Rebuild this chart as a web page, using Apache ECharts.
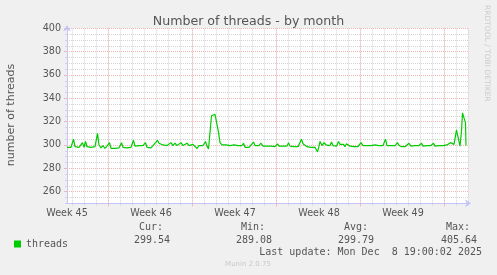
<!DOCTYPE html>
<html><head><meta charset="utf-8">
<script src="https://cdn.jsdelivr.net/npm/echarts@6/dist/echarts.min.js"></script>
<style>html,body{margin:0;padding:0;background:#f0f0f0}#c{width:497px;height:275px}</style>
</head><body><div id="c"></div>
<script>
// ---- data ----
const titleText = 'Number of threads - by month';
const yName = 'number of threads';
const seriesName = 'threads';
const weekLabels = ['Week 45', 'Week 46', 'Week 47', 'Week 48', 'Week 49'];
// hours since the start of the graph window
const hours = [0,4,8,13,16,20,24,28,31,34,37,40,44,48,52,56,61,64,68,72,76,80,85,88,92,96,100,104,109,112,116,120,124,128,133,136,140,144,148,152,157,160,164,168,172,176,181,184,188,192,196,200,204,208,212,216,220,224,228,232,236,240,244,248,252,256,260,264,268,272,277,280,283,286,289,292,296,299,303,306,310,314,318,322,326,330,334,338,342,346,350,353,356,360,364,368,373,376,380,384,388,392,396,400,404,408,412,416,421,424,428,432,436,440,443,446,450,454,458,462,466,469,472,476,480,484,488,492,496,501,504,506,510,514,518,522,526,529,532,536,539,543,546,550,553,556,559,563,566,570,574,578,582,588,592,596,600,604,608,612,616,620,624,628,632,637,640,644,648,652,656,661,664,669,672,676,680,684,688,692,696,700,704,709,712,716,720,724,728,733,736,740,744,748,752,756,760,764,767,771,774,776,779,783,786,789,791,794,797,798];
const threads = [298,299.5,298,305,298.5,300,298,299.5,302,298,303,298.5,300,298,299.5,298.5,310,300,297.5,299.5,297,299,302,297,298.5,297,298.5,297.5,302,298,299.5,297.5,299,298,304,299,298,299.5,298,299.5,302,298,299.5,297.5,299.5,299,304,301.5,302.5,300,301.5,299.5,301,302,299.5,301.5,299.5,301,302,299.5,300.5,301.5,299.5,298,300.5,299,297,299.5,298,299.5,303,299,296.5,298,325,325.5,326.3,326,311,302,300,301.5,300,301,299.5,301,300,301,299.5,301,299.5,301.5,298,299.5,298,299,302.5,299.5,301,299.5,301.5,299,300.5,299,300.5,299,299.5,298.5,301,299,300.5,299,300,299,302,299,300.5,298.5,300,298.5,299.5,305,301,299.5,298.5,299.5,298,299.5,298,294,299,303,299.5,302,300,301.5,299.5,302.5,299.5,300,299,303,300.5,299.5,300.5,298.5,301,302,299,300,298.5,299.5,298.5,302,299.5,298.5,299.5,298.5,299.5,298.5,300,298.5,299.5,298.5,299.5,305,299.5,298.5,299.5,298.5,299.5,302,299.5,298.5,299.5,298.5,299.5,301.5,299,298.5,299.5,298.5,299.5,301.5,299,298.5,299.5,298.5,299.5,301.5,299,298.5,299.5,298.5,299.5,300.5,300,301,302,303,300.5,299,313,312,299,312,327.5,327,319,299.5];
const statHeads = ['Cur:', 'Min:', 'Avg:', 'Max:'];
const statValues = ['299.54', '289.08', '299.79', '405.64'];
const lastUpdate = 'Last update: Mon Dec  8 19:00:02 2025';
const footer = 'Munin 2.0.75';
const watermark = 'RRDTOOL / TOBI OETIKER';

// ---- layout ----
const PL = 67, PT = 28.3, PW = 401, PH = 175;
const HOURS_SPAN = 802, WEEK_H = 168;
const minorC = '#d4d4d4', majorC = '#f2b4b4', axisC = '#c4c4fa', txt = '#555';
const dash = [1, 1];
const sans = 'DejaVu Sans', mono = 'DejaVu Sans Mono';

const hidden = {show: false};
const blankAxis = (grid, extra) => Object.assign({
  type: 'value', gridIndex: grid, min: 0, max: 1,
  axisLine: hidden, axisTick: hidden, axisLabel: hidden, splitLine: hidden
}, extra || {});

const chart = echarts.init(document.getElementById('c'), null, {renderer: 'canvas'});
const headX = [163, 265, 368, 470], valX = [170, 272, 374, 477];
const graphics = [];
statHeads.forEach((h, i) => graphics.push({type: 'text', x: headX[i], y: 227, style: {text: h, font: '10px ' + mono, fill: txt, align: 'right', verticalAlign: 'middle'}}));
statValues.forEach((v, i) => graphics.push({type: 'text', x: valX[i], y: 240, style: {text: v, font: '10px ' + mono, fill: txt, align: 'right', verticalAlign: 'middle'}}));
graphics.push({type: 'text', x: 482, y: 252, style: {text: lastUpdate, font: '10px ' + mono, fill: txt, align: 'right', verticalAlign: 'middle'}});
graphics.push({type: 'text', x: 248, y: 264, style: {text: footer, font: '7px ' + sans, fill: '#c8c8c8', align: 'center', verticalAlign: 'middle'}});
graphics.push({type: 'text', x: 11, y: 115, rotation: Math.PI / 2, style: {text: yName, font: '11px ' + sans, fill: txt, align: 'center', verticalAlign: 'middle'}});
graphics.push({type: 'text', x: 487, y: 5, rotation: -Math.PI / 2, style: {text: watermark, font: '7.5px ' + sans, fill: '#cccccc', align: 'left', verticalAlign: 'middle'}});

chart.setOption({
  animation: false,
  backgroundColor: '#f0f0f0',
  title: {text: titleText, left: 'center', top: 10, textStyle: {fontFamily: sans, fontSize: 12.6, fontWeight: 'normal', color: txt}},
  legend: {data: [seriesName], left: 9, top: 234, icon: 'rect', itemWidth: 7, itemHeight: 7, itemGap: 5,
    textStyle: {fontFamily: mono, fontSize: 10, color: txt}},
  grid: [
    {left: PL, top: PT, width: PW, height: PH, show: true, backgroundColor: '#fff', borderWidth: 0, outerBoundsMode: 'none'},
    {left: PL + 5.5, top: PT, width: 396, height: PH, outerBoundsMode: 'none'},
    {left: PL + 41.5, top: PT, width: 336, height: PH, outerBoundsMode: 'none'},
    {left: PL, top: PT, width: PW, height: PH * 140 / 150, outerBoundsMode: 'none'},
    {left: PL, top: PT, width: PW, height: PH, outerBoundsMode: 'none'}
  ],
  xAxis: [
    blankAxis(0, {z: 0}),
    blankAxis(1, {min: 0, max: 33, interval: 1, z: 0,
      axisTick: {show: true, length: 2, lineStyle: {color: minorC}},
      splitLine: {show: true, lineStyle: {color: minorC, type: dash}}}),
    blankAxis(2, {min: 0, max: 28, interval: 7, z: 1,
      axisTick: {show: true, length: 3, lineStyle: {color: majorC}},
      splitLine: {show: true, lineStyle: {color: majorC, type: dash}}}),
    blankAxis(3, {z: 1}),
    {type: 'value', gridIndex: 4, min: 0, max: HOURS_SPAN, interval: WEEK_H, z: 2,
      axisLine: {show: true, lineStyle: {color: axisC, width: 1}, symbol: ['none', 'arrow'], symbolSize: [6, 6], symbolOffset: [0, 3]},
      axisTick: hidden, splitLine: hidden,
      axisLabel: {show: true, margin: 5, fontFamily: sans, fontSize: 9.6, color: txt,
        formatter: v => (v % WEEK_H === 0 && v / WEEK_H < weekLabels.length) ? weekLabels[v / WEEK_H] : ''}}
  ],
  yAxis: [
    blankAxis(0, {min: 250, max: 400, interval: 5, z: 0,
      axisTick: {show: true, length: 2, lineStyle: {color: minorC}},
      splitLine: {show: true, lineStyle: {color: minorC, type: dash}}}),
    blankAxis(1),
    blankAxis(2),
    blankAxis(3, {min: 260, max: 400, interval: 20, z: 1,
      axisTick: {show: true, length: 3, lineStyle: {color: majorC}},
      axisLabel: {show: true, margin: 6, fontFamily: sans, fontSize: 9.6, color: txt},
      splitLine: {show: true, lineStyle: {color: majorC, type: dash}}}),
    {type: 'value', gridIndex: 4, min: 250, max: 400, z: 2,
      axisLine: {show: true, lineStyle: {color: axisC, width: 1}, symbol: ['none', 'arrow'], symbolSize: [6, 6], symbolOffset: [0, 3]},
      axisTick: hidden, axisLabel: hidden, splitLine: hidden}
  ],
  series: [{
    name: seriesName, type: 'line', xAxisIndex: 4, yAxisIndex: 4, z: 3,
    showSymbol: false, symbol: 'none', color: '#00cc00',
    lineStyle: {width: 1.2, color: '#00cc00'},
    data: hours.map((h, i) => [h, threads[i]])
  }],
  graphic: graphics
});
</script></body></html>
